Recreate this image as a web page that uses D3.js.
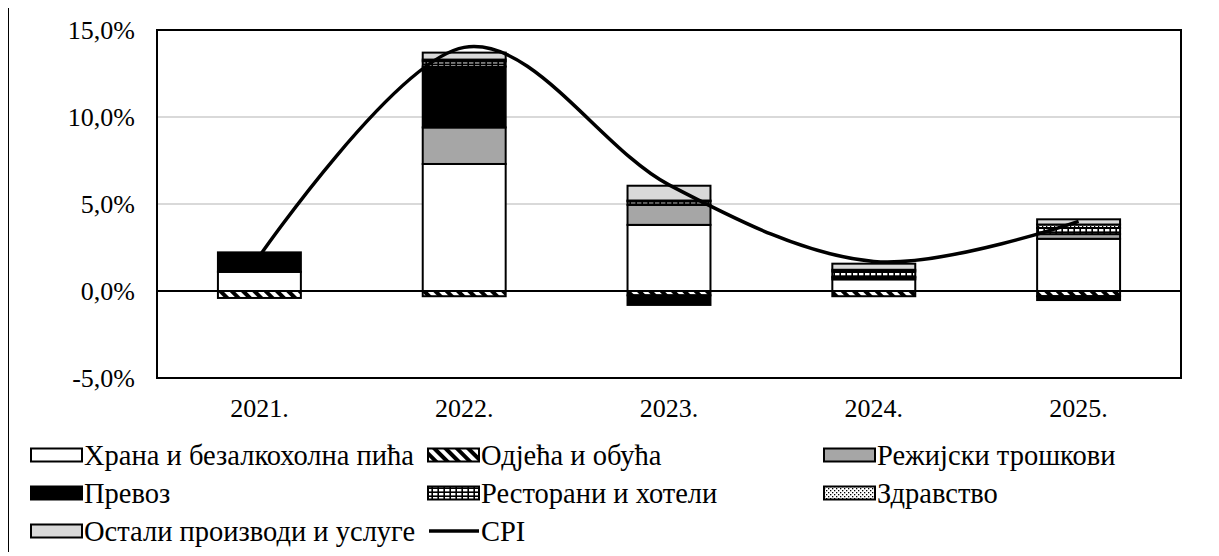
<!DOCTYPE html>
<html><head><meta charset="utf-8"><script src="https://cdn.jsdelivr.net/npm/d3@7"></script></head>
<body>
<svg id="s" width="1203" height="540" overflow="visible"></svg>
<script>
// ---------- DATA ----------
const years = ["2021.", "2022.", "2023.", "2024.", "2025."];
const food        = [1.10, 7.30, 3.80, 0.67, 3.00];
const clothing    = [-0.40, -0.30, -0.25, -0.30, -0.30];
const utilities   = [0.00, 2.10, 1.15, 0.10, 0.27];
const transport   = [1.12, 3.50, -0.55, 0.05, -0.22];
const restaurants = [0.00, 0.30, 0.20, 0.30, 0.35];
const health      = [0.00, 0.10, 0.05, 0.10, 0.20];
const other       = [0.00, 0.40, 0.85, 0.35, 0.30];
const cpi         = [2.0, 14.0, 6.1, 1.7, 4.0];
const yTicks      = [-5, 0, 5, 10, 15];

const seriesNames = [
  "Храна и безалкохолна пића",
  "Одјећа и обућа",
  "Режијски трошкови",
  "Превоз",
  "Ресторани и хотели",
  "Здравство",
  "Остали производи и услуге"
];
const seriesValues = [food, clothing, utilities, transport, restaurants, health, other];
const cpiName = "CPI";

// ---------- SETUP ----------
const F = '"Liberation Serif"';
// the page keeps its default 8px body margin; shift the drawing back so it sits at page origin
const s = d3.select("#s").append("g").attr("transform", "translate(-8,-8)");
const W = 1219, H = 556;
const plot = { left: 157, top: 30, right: 1181, bottom: 378 };

const x = d3.scaleBand().domain(years).range([plot.left, plot.right])
  .paddingInner(0.595).paddingOuter(0.2975);
const y = d3.scaleLinear().domain([-5, 15]).range([plot.bottom, plot.top]);
const fmt = d => d.toFixed(1).replace(".", ",") + "%";

// ---------- TEXTS ----------
yTicks.forEach(t => {
  s.append("text").attr("x", plot.left - 22).attr("y", y(t) + 9)
    .attr("font-family", F).attr("font-size", 26).attr("text-anchor", "end").text(fmt(t));
});
years.forEach(yr => {
  s.append("text").attr("x", x(yr) + x.bandwidth() / 2).attr("y", 417)
    .attr("font-family", F).attr("font-size", 26).attr("text-anchor", "middle").text(yr);
});
const legendItems = [
  { s: 0, col: 0, row: 0 }, { s: 1, col: 1, row: 0 }, { s: 2, col: 2, row: 0 },
  { s: 3, col: 0, row: 1 }, { s: 4, col: 1, row: 1 }, { s: 5, col: 2, row: 1 },
  { s: 6, col: 0, row: 2 }, { s: -1, col: 1, row: 2 }
];
const colX = [30, 427, 823];
const rowY = [455, 493, 531];
legendItems.forEach(it => {
  s.append("text").attr("x", colX[it.col] + 54).attr("y", rowY[it.row] + 10)
    .attr("font-family", F).attr("font-size", 28.5)
    .text(it.s < 0 ? cpiName : seriesNames[it.s]);
});

// ---------- PATTERNS ----------
const defs = d3.select("#s").append("defs");
const pCloth = defs.append("pattern").attr("id", "pCloth")
  .attr("patternUnits", "userSpaceOnUse").attr("width", 8).attr("height", 8)
  .attr("patternTransform", "rotate(-45)");
pCloth.append("rect").attr("width", 8).attr("height", 8).attr("fill", "#000");
pCloth.append("rect").attr("width", 4).attr("height", 8).attr("fill", "#fff");
const pRest = defs.append("pattern").attr("id", "pRest")
  .attr("patternUnits", "userSpaceOnUse").attr("width", 6).attr("height", 4);
pRest.append("rect").attr("width", 6).attr("height", 4).attr("fill", "#000");
pRest.append("rect").attr("x", 1).attr("y", 1).attr("width", 4.4).attr("height", 2.4).attr("fill", "#fff");
const pHealth = defs.append("pattern").attr("id", "pHealth")
  .attr("patternUnits", "userSpaceOnUse").attr("width", 4).attr("height", 4);
pHealth.append("rect").attr("width", 4).attr("height", 4).attr("fill", "#fff");
pHealth.append("rect").attr("x", 0).attr("y", 0).attr("width", 1.3).attr("height", 1.3).attr("fill", "#000");
pHealth.append("rect").attr("x", 2).attr("y", 2).attr("width", 1.3).attr("height", 1.3).attr("fill", "#000");
const fills = ["#ffffff", "url(#pCloth)", "#a6a6a6", "#000000", "url(#pRest)", "url(#pHealth)", "#d9d9d9"];

// outer border: left and top edges (right / bottom lie beyond the frame)
s.append("path").attr("d", `M8,${H} L8,7 L${W},7`)
  .attr("fill", "none").attr("stroke", "#000").attr("stroke-width", 2);

// gridlines
s.append("g").selectAll("line").data(yTicks.filter(t => t > 0 && t < 15)).join("line")
  .attr("x1", plot.left).attr("x2", plot.right)
  .attr("y1", d => y(d)).attr("y2", d => y(d))
  .attr("stroke", "#d9d9d9").attr("stroke-width", 2);

// stacked bars
const segs = [];
years.forEach((yr, i) => {
  let pos = 0, neg = 0;
  seriesValues.forEach((arr, k) => {
    const v = arr[i];
    if (v === 0) return;
    let y0, y1;
    if (v > 0) { y0 = pos; y1 = pos + v; pos = y1; }
    else { y0 = neg; y1 = neg + v; neg = y1; }
    segs.push({ yr, k, y0, y1 });
  });
});
s.append("g").selectAll("rect").data(segs).join("rect")
  .attr("x", d => x(d.yr))
  .attr("width", x.bandwidth())
  .attr("y", d => y(Math.max(d.y0, d.y1)))
  .attr("height", d => Math.abs(y(d.y0) - y(d.y1)))
  .attr("fill", d => fills[d.k])
  .attr("stroke", "#000").attr("stroke-width", 2);

// plot border
s.append("rect").attr("x", plot.left).attr("y", plot.top)
  .attr("width", plot.right - plot.left).attr("height", plot.bottom - plot.top)
  .attr("fill", "none").attr("stroke", "#000").attr("stroke-width", 2);

// zero line
s.append("line").attr("x1", plot.left).attr("x2", plot.right)
  .attr("y1", y(0)).attr("y2", y(0)).attr("stroke", "#000").attr("stroke-width", 2);

// CPI line
const line = d3.line().x((d, i) => x(years[i]) + x.bandwidth() / 2).y(d => y(d))
  .curve(d3.curveCardinal.tension(0));
s.append("path").datum(cpi).attr("d", line)
  .attr("fill", "none").attr("stroke", "#000").attr("stroke-width", 3.5);

// legend swatches
legendItems.forEach(it => {
  const gx0 = colX[it.col], gy0 = rowY[it.row];
  if (it.s < 0) {
    s.append("line").attr("x1", gx0 + 2).attr("x2", gx0 + 52)
      .attr("y1", gy0).attr("y2", gy0).attr("stroke", "#000").attr("stroke-width", 3.5);
  } else {
    s.append("rect").attr("x", gx0 + 1).attr("y", gy0 - 6.5).attr("width", 51).attr("height", 13)
      .attr("fill", fills[it.s]).attr("stroke", "#000").attr("stroke-width", 2);
  }
});
</script>
</body>
</html>
